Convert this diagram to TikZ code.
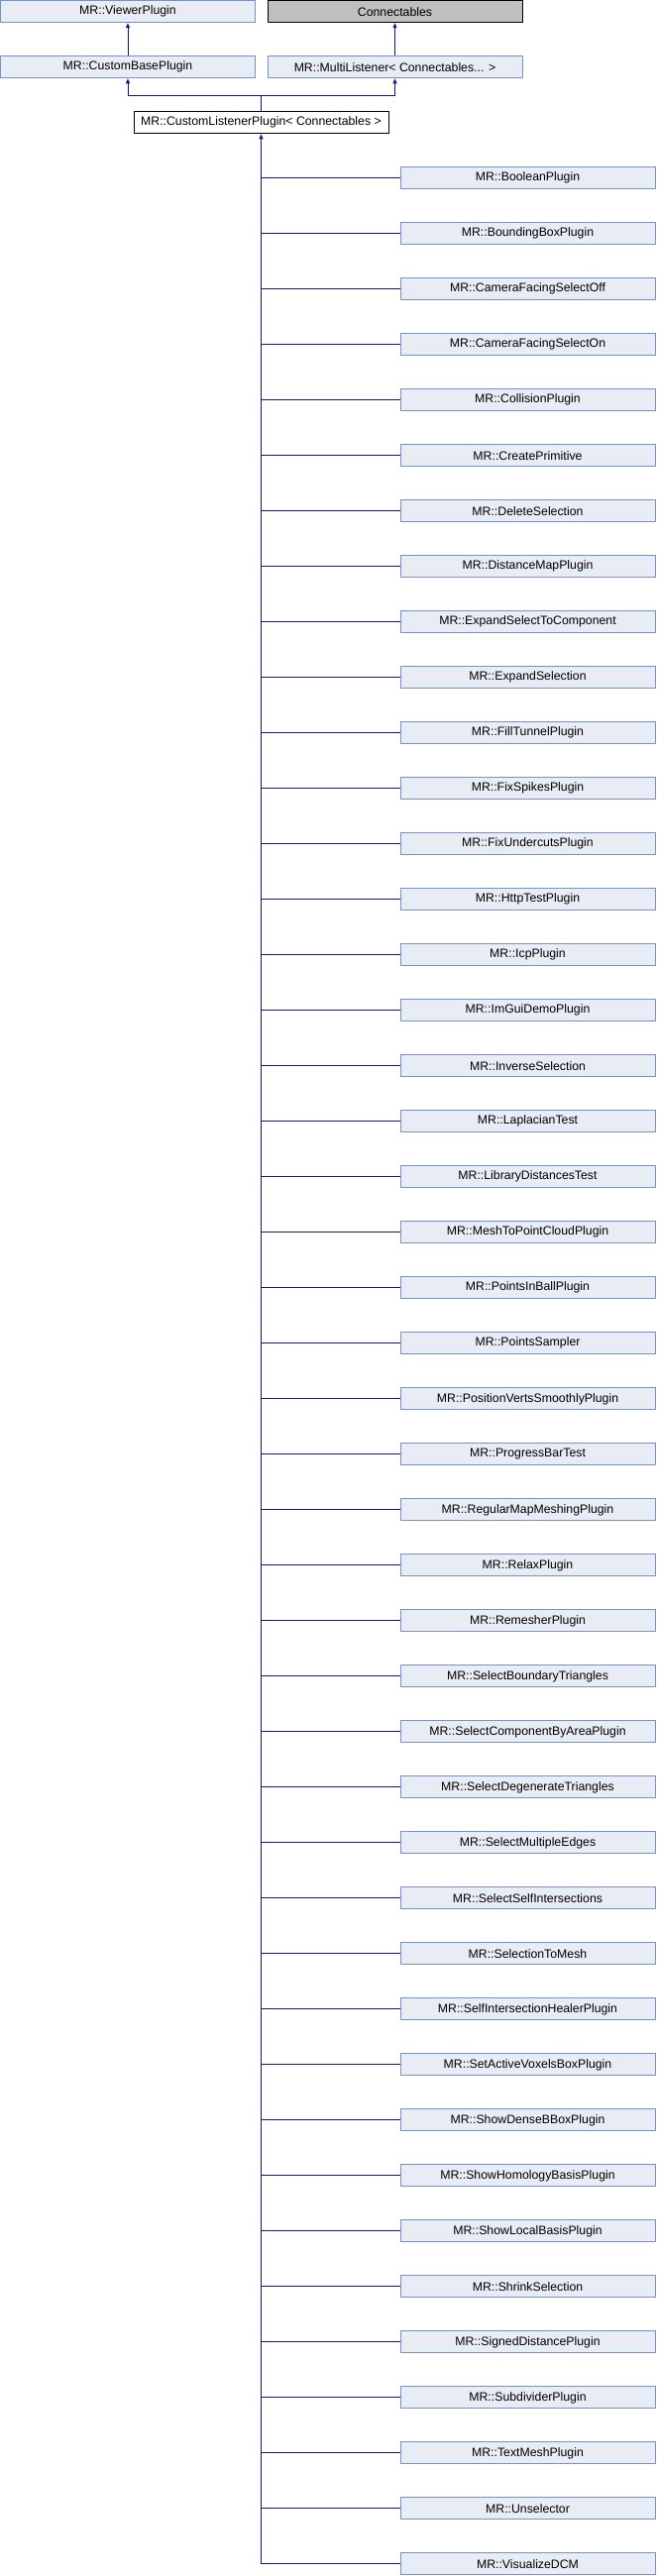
\documentclass[tikz,border=0pt]{standalone}
\usepackage{fontspec}
\setmainfont{Liberation Sans}
\usetikzlibrary{arrows.meta}
\definecolor{boxfill}{RGB}{232,236,245}
\definecolor{boxdraw}{RGB}{118,146,204}
\definecolor{edgecol}{RGB}{20,20,140}
\definecolor{grayfill}{RGB}{191,191,191}
\tikzset{
  cls/.style={draw=boxdraw, fill=boxfill, line width=1pt, minimum width=257pt, minimum height=22pt, inner sep=0pt, font=\fontsize{12.3}{14}\selectfont},
  ext/.style={cls, draw=black, fill=grayfill},
  cur/.style={cls, draw=black, fill=white},
  edge/.style={draw=edgecol, line width=1pt},
  tip/.style={-{Triangle[length=5pt,width=4pt]}}
}
\begin{document}
\begin{tikzpicture}[x=1pt,y=-1pt]
\useasboundingbox (0,0) rectangle (662,2600);
\node[cls] (vp) at (129,11.7) {MR::ViewerPlugin};
\node[ext] (conn) at (398.5,11.7) {Connectables};
\node[cls] (cbp) at (129,67.8) {MR::CustomBasePlugin};
\node[cls] (ml) at (398.5,67.8) {MR::MultiListener< Connectables... >};
\node[cur] (clp) at (263.5,123.8) {MR::CustomListenerPlugin< Connectables >};
\coordinate (j) at (263.5,96.7);
\draw[edge,tip] (cbp.north) -- (vp.south);
\draw[edge,tip] (ml.north) -- (conn.south);
\draw[edge,tip] (clp.north) -- (j) -| (cbp.south);
\draw[edge,tip] (j) -| (ml.south);
\foreach \n [count=\i from 0] in {BooleanPlugin,BoundingBoxPlugin,CameraFacingSelectOff,CameraFacingSelectOn,CollisionPlugin,CreatePrimitive,DeleteSelection,DistanceMapPlugin,ExpandSelectToComponent,ExpandSelection,FillTunnelPlugin,FixSpikesPlugin,FixUndercutsPlugin,HttpTestPlugin,IcpPlugin,ImGuiDemoPlugin,InverseSelection,LaplacianTest,LibraryDistancesTest,MeshToPointCloudPlugin,PointsInBallPlugin,PointsSampler,PositionVertsSmoothlyPlugin,ProgressBarTest,RegularMapMeshingPlugin,RelaxPlugin,RemesherPlugin,SelectBoundaryTriangles,SelectComponentByAreaPlugin,SelectDegenerateTriangles,SelectMultipleEdges,SelectSelfIntersections,SelectionToMesh,SelfIntersectionHealerPlugin,SetActiveVoxelsBoxPlugin,ShowDenseBBoxPlugin,ShowHomologyBasisPlugin,ShowLocalBasisPlugin,ShrinkSelection,SignedDistancePlugin,SubdividerPlugin,TextMeshPlugin,Unselector,VisualizeDCM}{
  \node[cls] (c\i) at (532.5,179.8+56*\i) {MR::\n};
  \draw[edge] (c\i.west) -- (clp.south |- c\i.west);
}
\draw[edge,tip] (clp.south |- c43.west) -- (clp.south);
\end{tikzpicture}
\end{document}
